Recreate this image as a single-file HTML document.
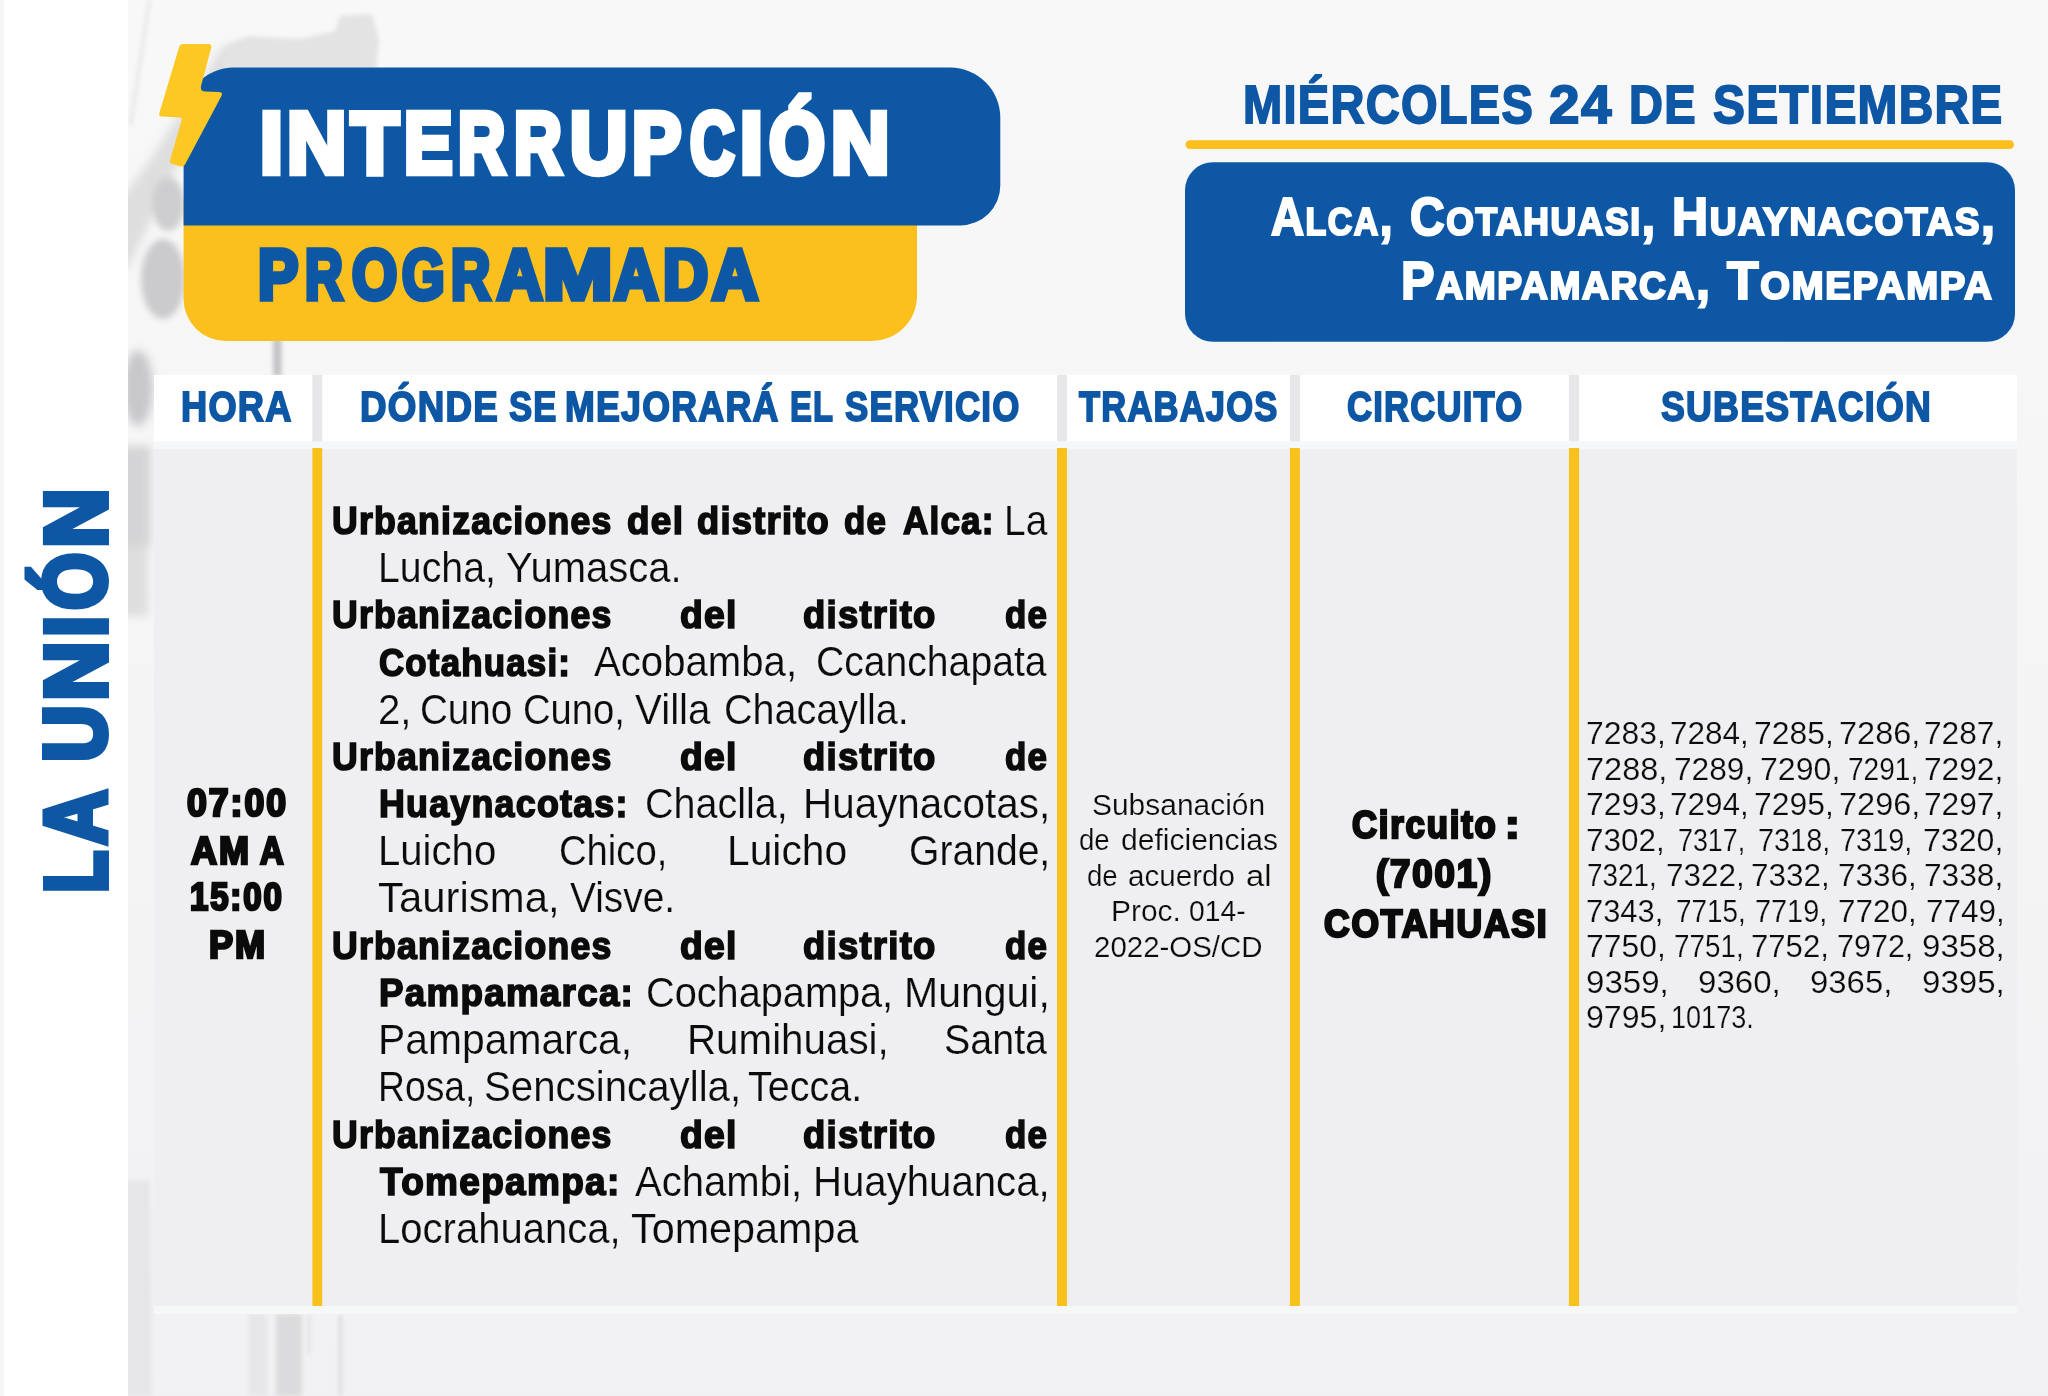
<!DOCTYPE html>
<html lang="es"><head><meta charset="utf-8"><title>Interrupción programada</title>
<style>
html,body{margin:0;padding:0}
body{width:2048px;height:1396px;position:relative;overflow:hidden;background:#f5f5f6;font-family:"Liberation Sans", sans-serif;color:#0b0b0b}
.a{position:absolute}
.t{position:absolute;white-space:nowrap;line-height:1;transform-origin:0 0}
</style></head><body>
<!-- background -->
<svg class="a" style="left:0;top:0" width="2048" height="1396" viewBox="0 0 2048 1396">
<defs>
<filter id="b6" x="-30%" y="-30%" width="160%" height="160%"><feGaussianBlur stdDeviation="5"/></filter>
<filter id="b3" x="-30%" y="-30%" width="160%" height="160%"><feGaussianBlur stdDeviation="3"/></filter>
<filter id="b2" x="-30%" y="-30%" width="160%" height="160%"><feGaussianBlur stdDeviation="2"/></filter>
<linearGradient id="lg" x1="0" x2="1" y1="0" y2="0"><stop offset="0" stop-color="#ebebeb"/><stop offset="1" stop-color="#ffffff"/></linearGradient>
<linearGradient id="pg" x1="0" x2="0" y1="0" y2="1"><stop offset="0" stop-color="#f8f8f8"/><stop offset="0.3" stop-color="#f6f6f7"/><stop offset="1" stop-color="#f1f0f2"/></linearGradient>
<clipPath id="cp"><rect x="128" y="0" width="1920" height="1396"/></clipPath>
</defs>
<rect x="128" y="0" width="1920" height="1396" fill="url(#pg)"/>
<g clip-path="url(#cp)">
<!-- faint photo: insulator arm (left of title box) -->
<g filter="url(#b6)">
<polygon points="120,200 150,160 222,48 252,40 190,140 128,268 120,270" fill="#dededf"/>
<ellipse cx="138" cy="388" rx="15" ry="38" fill="#c8c8ca"/>
<rect x="118" y="446" width="33" height="100" fill="#d4d4d6"/>
<rect x="118" y="546" width="30" height="70" fill="#dededf"/>
</g>
<g filter="url(#b3)">
<ellipse cx="168" cy="204" rx="16" ry="27" fill="#cdcdcf"/>
<ellipse cx="163" cy="279" rx="22" ry="40" fill="#cbcbcd"/>
</g>
<g filter="url(#b2)">
<polygon points="222,70 225,47 250,36 300,39 335,31 340,16 372,14 379,40 376,70" fill="#e3e3e4"/>
<rect x="273" y="338" width="8.5" height="38" fill="#c4c4c6"/>
<polygon points="129,125 132,125 151,0 148,0" fill="#e4e4e5"/>
<rect x="249" y="1314" width="18" height="82" fill="#e6e6e8"/>
<rect x="276" y="1314" width="26" height="82" fill="#dbdbdd"/>
<rect x="339" y="1314" width="2.5" height="82" fill="#d4d4d6"/>
<rect x="308" y="1314" width="2" height="40" fill="#d8d8da"/>
<polygon points="120,1180 150,1180 152,1396 120,1396" fill="#e6e6e8"/>
</g>
</g>
<rect x="0" y="0" width="128" height="1396" fill="#ffffff"/>
<rect x="0" y="0" width="4" height="1396" fill="#f5f5f5"/>
</svg>

<!-- header shapes -->
<svg class="a" style="left:0;top:0" width="2048" height="1396" viewBox="0 0 2048 1396">
<!-- yellow lower box -->
<path d="M183.6 200 H917 V296 A45 45 0 0 1 872 341 H225.6 A42 42 0 0 1 183.6 299 Z" fill="#fbc01d"/>
<!-- blue upper box -->
<path d="M183.6 225.4 V117.6 A50 50 0 0 1 233.6 67.6 H950.3 A50 50 0 0 1 1000.3 117.6 V185.4 A40 40 0 0 1 960.3 225.4 Z" fill="#0d57a5"/>
<!-- bolt -->
<path d="M183 44 H208.5 Q212 44 211.3 47.5 L201 86 Q199.8 91.3 205 91.5 L219 92 Q223.5 92.3 221.3 96.2 L185 164.5 Q183.5 167 181 166.4 L171.5 163.8 Q169.3 163 170 160.6 L181.6 120.5 Q182.4 117.6 179.5 117.5 L162 116.5 Q158 116.2 159.5 112.5 L179.3 46.5 Q180 44 183 44 Z" fill="#fdc823" stroke="#f5f5f6" stroke-width="0"/>
<!-- date underline -->
<rect x="1185.5" y="140.3" width="828.5" height="8.6" rx="4.3" fill="#fbc01d"/>
<!-- places box -->
<rect x="1185" y="162.2" width="830" height="179.6" rx="28" fill="#0d57a5"/>
<!-- table header cells -->
<g fill="#ffffff">
<rect x="154" y="375" width="158.4" height="66.5"/>
<rect x="322.2" y="375" width="734.8" height="66.5"/>
<rect x="1067" y="375" width="223" height="66.5"/>
<rect x="1299.9" y="375" width="269" height="66.5"/>
<rect x="1579.1" y="375" width="437.9" height="66.5"/>
</g>
<g fill="#e7e7e9">
<rect x="312.4" y="375" width="9.8" height="66.5"/>
<rect x="1057" y="375" width="10" height="66.5"/>
<rect x="1289.9" y="375" width="10" height="66.5"/>
<rect x="1568.9" y="375" width="10.2" height="66.5"/>
</g>
<!-- gap band -->
<rect x="154" y="441.5" width="1863" height="7.5" fill="#f6f7f8"/>
<!-- body -->
<rect x="154" y="449" width="1863" height="857" fill="#efeff1"/>
<rect x="154" y="1306" width="1863" height="8" fill="#f6f8f8"/>
<g fill="#f8c11b">
<rect x="312.4" y="448" width="9.8" height="858"/>
<rect x="1057" y="448" width="10" height="858"/>
<rect x="1289.9" y="448" width="10" height="858"/>
<rect x="1568.9" y="448" width="10.2" height="858"/>
</g>
</svg>

<div class="t" style="left:259.50px;top:100.0px;font-size:86.19px;font-weight:700;color:#fff;-webkit-text-stroke:6.50px #fff;letter-spacing:5.20px;transform:scaleX(0.9547)">I</div>
<div class="t" style="left:287.00px;top:100.0px;font-size:86.19px;font-weight:700;color:#fff;-webkit-text-stroke:6.50px #fff;letter-spacing:5.20px;transform:scaleX(0.9543)">N</div>
<div class="t" style="left:350.50px;top:100.0px;font-size:86.19px;font-weight:700;color:#fff;-webkit-text-stroke:6.50px #fff;letter-spacing:5.20px;transform:scaleX(0.9074)">T</div>
<div class="t" style="left:404.00px;top:100.0px;font-size:86.19px;font-weight:700;color:#fff;-webkit-text-stroke:6.50px #fff;letter-spacing:5.20px;transform:scaleX(0.8439)">E</div>
<div class="t" style="left:458.00px;top:100.0px;font-size:86.19px;font-weight:700;color:#fff;-webkit-text-stroke:6.50px #fff;letter-spacing:5.20px;transform:scaleX(0.7592)">R</div>
<div class="t" style="left:514.00px;top:100.0px;font-size:86.19px;font-weight:700;color:#fff;-webkit-text-stroke:6.50px #fff;letter-spacing:5.20px;transform:scaleX(0.7671)">R</div>
<div class="t" style="left:570.00px;top:100.0px;font-size:86.19px;font-weight:700;color:#fff;-webkit-text-stroke:6.50px #fff;letter-spacing:5.20px;transform:scaleX(0.9200)">U</div>
<div class="t" style="left:632.00px;top:100.0px;font-size:86.19px;font-weight:700;color:#fff;-webkit-text-stroke:6.50px #fff;letter-spacing:5.20px;transform:scaleX(0.8572)">P</div>
<div class="t" style="left:690.00px;top:100.0px;font-size:86.19px;font-weight:700;color:#fff;-webkit-text-stroke:6.50px #fff;letter-spacing:5.20px;transform:scaleX(0.7138)">C</div>
<div class="t" style="left:740.00px;top:100.0px;font-size:86.19px;font-weight:700;color:#fff;-webkit-text-stroke:6.50px #fff;letter-spacing:5.20px;transform:scaleX(0.9532)">I</div>
<div class="t" style="left:768.50px;top:100.0px;font-size:86.19px;font-weight:700;color:#fff;-webkit-text-stroke:6.50px #fff;letter-spacing:5.20px;transform:scaleX(0.8348)">Ó</div>
<div class="t" style="left:830.50px;top:100.0px;font-size:86.19px;font-weight:700;color:#fff;-webkit-text-stroke:6.50px #fff;letter-spacing:5.20px;transform:scaleX(0.9399)">N</div>
<div class="t" style="left:258.00px;top:240.2px;font-size:70.06px;font-weight:700;color:#0d57a5;-webkit-text-stroke:5.50px #0d57a5;letter-spacing:4.40px;transform:scaleX(0.8615)">P</div>
<div class="t" style="left:305.00px;top:240.2px;font-size:70.06px;font-weight:700;color:#0d57a5;-webkit-text-stroke:5.50px #0d57a5;letter-spacing:4.40px;transform:scaleX(0.7467)">R</div>
<div class="t" style="left:351.50px;top:240.2px;font-size:70.06px;font-weight:700;color:#0d57a5;-webkit-text-stroke:5.50px #0d57a5;letter-spacing:4.40px;transform:scaleX(0.8295)">O</div>
<div class="t" style="left:402.00px;top:240.2px;font-size:70.06px;font-weight:700;color:#0d57a5;-webkit-text-stroke:5.50px #0d57a5;letter-spacing:4.40px;transform:scaleX(0.7811)">G</div>
<div class="t" style="left:451.00px;top:240.2px;font-size:70.06px;font-weight:700;color:#0d57a5;-webkit-text-stroke:5.50px #0d57a5;letter-spacing:4.40px;transform:scaleX(0.7743)">R</div>
<div class="t" style="left:496.50px;top:240.2px;font-size:70.06px;font-weight:700;color:#0d57a5;-webkit-text-stroke:5.50px #0d57a5;letter-spacing:4.40px;transform:scaleX(0.9000)">A</div>
<div class="t" style="left:543.00px;top:240.2px;font-size:70.06px;font-weight:700;color:#0d57a5;-webkit-text-stroke:5.50px #0d57a5;letter-spacing:4.40px;transform:scaleX(1.1904)">M</div>
<div class="t" style="left:613.50px;top:240.2px;font-size:70.06px;font-weight:700;color:#0d57a5;-webkit-text-stroke:5.50px #0d57a5;letter-spacing:4.40px;transform:scaleX(0.8730)">A</div>
<div class="t" style="left:662.50px;top:240.2px;font-size:70.06px;font-weight:700;color:#0d57a5;-webkit-text-stroke:5.50px #0d57a5;letter-spacing:4.40px;transform:scaleX(0.8928)">D</div>
<div class="t" style="left:712.00px;top:240.2px;font-size:70.06px;font-weight:700;color:#0d57a5;-webkit-text-stroke:5.50px #0d57a5;letter-spacing:4.40px;transform:scaleX(0.9092)">A</div>
<div class="t" style="left:1242.50px;top:76.6px;font-size:54.07px;font-weight:700;color:#0d57a5;-webkit-text-stroke:1.80px #0d57a5;letter-spacing:1.44px;transform:scaleX(0.8705)">MIÉRCOLES</div>
<div class="t" style="left:1549.00px;top:76.6px;font-size:54.07px;font-weight:700;color:#0d57a5;-webkit-text-stroke:1.80px #0d57a5;letter-spacing:1.44px;transform:scaleX(1.0168)">24</div>
<div class="t" style="left:1629.00px;top:76.6px;font-size:54.07px;font-weight:700;color:#0d57a5;-webkit-text-stroke:1.80px #0d57a5;letter-spacing:1.44px;transform:scaleX(0.8687)">DE</div>
<div class="t" style="left:1712.50px;top:76.6px;font-size:54.07px;font-weight:700;color:#0d57a5;-webkit-text-stroke:1.80px #0d57a5;letter-spacing:1.44px;transform:scaleX(0.8848)">SETIEMBRE</div>
<div class="t" style="left:1271.00px;top:189.8px;font-size:53.49px;font-weight:700;color:#fff;-webkit-text-stroke:2.20px #fff;letter-spacing:1.76px;transform:scaleX(0.8570)">A<span style="font-size:74%">LCA</span>,</div>
<div class="t" style="left:1410.00px;top:189.8px;font-size:53.49px;font-weight:700;color:#fff;-webkit-text-stroke:2.20px #fff;letter-spacing:1.76px;transform:scaleX(0.8972)">C<span style="font-size:74%">OTAHUASI</span>,</div>
<div class="t" style="left:1671.50px;top:189.8px;font-size:53.49px;font-weight:700;color:#fff;-webkit-text-stroke:2.20px #fff;letter-spacing:1.76px;transform:scaleX(0.9347)">H<span style="font-size:74%">UAYNACOTAS</span>,</div>
<div class="t" style="left:1400.50px;top:253.5px;font-size:53.49px;font-weight:700;color:#fff;-webkit-text-stroke:2.20px #fff;letter-spacing:1.76px;transform:scaleX(0.9390)">P<span style="font-size:74%">AMPAMARCA</span>,</div>
<div class="t" style="left:1727.00px;top:253.5px;font-size:53.49px;font-weight:700;color:#fff;-webkit-text-stroke:2.20px #fff;letter-spacing:1.76px;transform:scaleX(0.9665)">T<span style="font-size:74%">OMEPAMPA</span></div>
<div class="t" style="left:181.00px;top:386.4px;font-size:41.72px;font-weight:700;color:#0d57a5;-webkit-text-stroke:1.80px #0d57a5;letter-spacing:1.44px;transform:scaleX(0.8678)">HORA</div>
<div class="t" style="left:359.50px;top:386.4px;font-size:41.72px;font-weight:700;color:#0d57a5;-webkit-text-stroke:1.80px #0d57a5;letter-spacing:1.44px;transform:scaleX(0.8810)">DÓNDE</div>
<div class="t" style="left:509.00px;top:386.4px;font-size:41.72px;font-weight:700;color:#0d57a5;-webkit-text-stroke:1.80px #0d57a5;letter-spacing:1.44px;transform:scaleX(0.8296)">SE</div>
<div class="t" style="left:565.00px;top:386.4px;font-size:41.72px;font-weight:700;color:#0d57a5;-webkit-text-stroke:1.80px #0d57a5;letter-spacing:1.44px;transform:scaleX(0.8572)">MEJORARÁ</div>
<div class="t" style="left:790.00px;top:386.4px;font-size:41.72px;font-weight:700;color:#0d57a5;-webkit-text-stroke:1.80px #0d57a5;letter-spacing:1.44px;transform:scaleX(0.7848)">EL</div>
<div class="t" style="left:844.50px;top:386.4px;font-size:41.72px;font-weight:700;color:#0d57a5;-webkit-text-stroke:1.80px #0d57a5;letter-spacing:1.44px;transform:scaleX(0.8352)">SERVICIO</div>
<div class="t" style="left:1079.00px;top:386.4px;font-size:41.72px;font-weight:700;color:#0d57a5;-webkit-text-stroke:1.80px #0d57a5;letter-spacing:1.44px;transform:scaleX(0.8278)">TRABAJOS</div>
<div class="t" style="left:1347.00px;top:386.4px;font-size:41.72px;font-weight:700;color:#0d57a5;-webkit-text-stroke:1.80px #0d57a5;letter-spacing:1.44px;transform:scaleX(0.8312)">CIRCUITO</div>
<div class="t" style="left:1661.00px;top:386.4px;font-size:41.72px;font-weight:700;color:#0d57a5;-webkit-text-stroke:1.80px #0d57a5;letter-spacing:1.44px;transform:scaleX(0.8566)">SUBESTACIÓN</div>
<div class="t" style="left:187.00px;top:784.1px;font-size:38.23px;font-weight:700;-webkit-text-stroke:2.70px #0b0b0b;letter-spacing:2.16px;transform:scaleX(0.9308)">07:00</div>
<div class="t" style="left:190.50px;top:831.8px;font-size:38.23px;font-weight:700;-webkit-text-stroke:2.70px #0b0b0b;letter-spacing:2.16px;transform:scaleX(0.9422)">AM</div>
<div class="t" style="left:259.50px;top:831.8px;font-size:38.23px;font-weight:700;-webkit-text-stroke:2.70px #0b0b0b;letter-spacing:2.16px;transform:scaleX(0.8568)">A</div>
<div class="t" style="left:190.00px;top:878.4px;font-size:38.23px;font-weight:700;-webkit-text-stroke:2.70px #0b0b0b;letter-spacing:2.16px;transform:scaleX(0.8621)">15:00</div>
<div class="t" style="left:209.00px;top:926.1px;font-size:38.23px;font-weight:700;-webkit-text-stroke:2.70px #0b0b0b;letter-spacing:2.16px;transform:scaleX(0.9447)">PM</div>
<div class="t" style="left:1092.00px;top:789.5px;font-size:30.09px;-webkit-text-stroke:0.20px #efeff1;transform:scaleX(0.9953)">Subsanación</div>
<div class="t" style="left:1079.00px;top:825.4px;font-size:30.09px;-webkit-text-stroke:0.20px #efeff1;transform:scaleX(0.9172)">de</div>
<div class="t" style="left:1120.50px;top:825.4px;font-size:30.09px;-webkit-text-stroke:0.20px #efeff1;transform:scaleX(0.9991)">deficiencias</div>
<div class="t" style="left:1086.50px;top:860.8px;font-size:30.09px;-webkit-text-stroke:0.20px #efeff1;transform:scaleX(0.9172)">de</div>
<div class="t" style="left:1128.00px;top:860.8px;font-size:30.09px;-webkit-text-stroke:0.20px #efeff1;transform:scaleX(0.9847)">acuerdo</div>
<div class="t" style="left:1246.00px;top:860.8px;font-size:30.09px;-webkit-text-stroke:0.20px #efeff1;transform:scaleX(1.0876)">al</div>
<div class="t" style="left:1111.00px;top:896.2px;font-size:30.09px;-webkit-text-stroke:0.20px #efeff1;transform:scaleX(0.9954)">Proc.</div>
<div class="t" style="left:1189.00px;top:896.2px;font-size:30.09px;-webkit-text-stroke:0.20px #efeff1;transform:scaleX(0.9402)">014-</div>
<div class="t" style="left:1094.00px;top:931.6px;font-size:30.09px;-webkit-text-stroke:0.20px #efeff1;transform:scaleX(0.9791)">2022-OS/CD</div>
<div class="t" style="left:1352.00px;top:806.2px;font-size:38.23px;font-weight:700;-webkit-text-stroke:2.50px #0b0b0b;letter-spacing:2.00px;transform:scaleX(0.9073)">Circuito</div>
<div class="t" style="left:1504.50px;top:806.2px;font-size:38.23px;font-weight:700;-webkit-text-stroke:2.50px #0b0b0b;letter-spacing:2.00px;transform:scaleX(1.1505)">:</div>
<div class="t" style="left:1376.00px;top:855.0px;font-size:38.23px;font-weight:700;-webkit-text-stroke:2.50px #0b0b0b;letter-spacing:2.00px;transform:scaleX(0.9562)">(7001)</div>
<div class="t" style="left:1323.50px;top:905.1px;font-size:38.23px;font-weight:700;-webkit-text-stroke:2.50px #0b0b0b;letter-spacing:2.00px;transform:scaleX(0.9265)">COTAHUASI</div>
<div class="t" style="left:332.00px;top:500.9px;font-size:39.39px;font-weight:700;-webkit-text-stroke:1.70px #0b0b0b;letter-spacing:1.36px;transform:scaleX(0.9047)">Urbanizaciones</div>
<div class="t" style="left:626.50px;top:500.9px;font-size:39.39px;font-weight:700;-webkit-text-stroke:1.70px #0b0b0b;letter-spacing:1.36px;transform:scaleX(0.9388)">del</div>
<div class="t" style="left:696.50px;top:500.9px;font-size:39.39px;font-weight:700;-webkit-text-stroke:1.70px #0b0b0b;letter-spacing:1.36px;transform:scaleX(0.9220)">distrito</div>
<div class="t" style="left:843.50px;top:500.9px;font-size:39.39px;font-weight:700;-webkit-text-stroke:1.70px #0b0b0b;letter-spacing:1.36px;transform:scaleX(0.8856)">de</div>
<div class="t" style="left:902.50px;top:500.9px;font-size:39.39px;font-weight:700;-webkit-text-stroke:1.70px #0b0b0b;letter-spacing:1.36px;transform:scaleX(0.8892)">Alca:</div>
<div class="t" style="left:1003.50px;top:499.5px;font-size:42.15px;-webkit-text-stroke:0.20px #efeff1;transform:scaleX(0.9228)">La</div>
<div class="t" style="left:377.50px;top:546.8px;font-size:42.15px;-webkit-text-stroke:0.20px #efeff1;transform:scaleX(0.9316)">Lucha,</div>
<div class="t" style="left:506.00px;top:546.8px;font-size:42.15px;-webkit-text-stroke:0.20px #efeff1;transform:scaleX(0.9490)">Yumasca.</div>
<div class="t" style="left:332.00px;top:595.4px;font-size:39.39px;font-weight:700;-webkit-text-stroke:1.70px #0b0b0b;letter-spacing:1.36px;transform:scaleX(0.9047)">Urbanizaciones</div>
<div class="t" style="left:679.50px;top:595.4px;font-size:39.39px;font-weight:700;-webkit-text-stroke:1.70px #0b0b0b;letter-spacing:1.36px;transform:scaleX(0.9475)">del</div>
<div class="t" style="left:802.50px;top:595.4px;font-size:39.39px;font-weight:700;-webkit-text-stroke:1.70px #0b0b0b;letter-spacing:1.36px;transform:scaleX(0.9255)">distrito</div>
<div class="t" style="left:1004.50px;top:595.4px;font-size:39.39px;font-weight:700;-webkit-text-stroke:1.70px #0b0b0b;letter-spacing:1.36px;transform:scaleX(0.8856)">de</div>
<div class="t" style="left:379.00px;top:642.6px;font-size:39.39px;font-weight:700;-webkit-text-stroke:1.70px #0b0b0b;letter-spacing:1.36px;transform:scaleX(0.8851)">Cotahuasi:</div>
<div class="t" style="left:594.00px;top:641.2px;font-size:42.15px;-webkit-text-stroke:0.20px #efeff1;transform:scaleX(0.9525)">Acobamba,</div>
<div class="t" style="left:816.00px;top:641.2px;font-size:42.15px;-webkit-text-stroke:0.20px #efeff1;transform:scaleX(0.9282)">Ccanchapata</div>
<div class="t" style="left:377.50px;top:688.5px;font-size:42.15px;-webkit-text-stroke:0.20px #efeff1;transform:scaleX(0.9529)">2,</div>
<div class="t" style="left:419.50px;top:688.5px;font-size:42.15px;-webkit-text-stroke:0.20px #efeff1;transform:scaleX(0.9147)">Cuno</div>
<div class="t" style="left:523.00px;top:688.5px;font-size:42.15px;-webkit-text-stroke:0.20px #efeff1;transform:scaleX(0.9053)">Cuno,</div>
<div class="t" style="left:635.00px;top:688.5px;font-size:42.15px;-webkit-text-stroke:0.20px #efeff1;transform:scaleX(0.9573)">Villa</div>
<div class="t" style="left:724.00px;top:688.5px;font-size:42.15px;-webkit-text-stroke:0.20px #efeff1;transform:scaleX(0.9386)">Chacaylla.</div>
<div class="t" style="left:332.00px;top:737.1px;font-size:39.39px;font-weight:700;-webkit-text-stroke:1.70px #0b0b0b;letter-spacing:1.36px;transform:scaleX(0.9047)">Urbanizaciones</div>
<div class="t" style="left:679.50px;top:737.1px;font-size:39.39px;font-weight:700;-webkit-text-stroke:1.70px #0b0b0b;letter-spacing:1.36px;transform:scaleX(0.9475)">del</div>
<div class="t" style="left:802.50px;top:737.1px;font-size:39.39px;font-weight:700;-webkit-text-stroke:1.70px #0b0b0b;letter-spacing:1.36px;transform:scaleX(0.9255)">distrito</div>
<div class="t" style="left:1004.50px;top:737.1px;font-size:39.39px;font-weight:700;-webkit-text-stroke:1.70px #0b0b0b;letter-spacing:1.36px;transform:scaleX(0.8856)">de</div>
<div class="t" style="left:378.50px;top:784.3px;font-size:39.39px;font-weight:700;-webkit-text-stroke:1.70px #0b0b0b;letter-spacing:1.36px;transform:scaleX(0.9092)">Huaynacotas:</div>
<div class="t" style="left:644.50px;top:783.0px;font-size:42.15px;-webkit-text-stroke:0.20px #efeff1;transform:scaleX(0.9374)">Chaclla,</div>
<div class="t" style="left:802.50px;top:783.0px;font-size:42.15px;-webkit-text-stroke:0.20px #efeff1;transform:scaleX(0.9592)">Huaynacotas,</div>
<div class="t" style="left:377.50px;top:830.2px;font-size:42.15px;-webkit-text-stroke:0.20px #efeff1;transform:scaleX(0.9517)">Luicho</div>
<div class="t" style="left:558.50px;top:830.2px;font-size:42.15px;-webkit-text-stroke:0.20px #efeff1;transform:scaleX(0.9068)">Chico,</div>
<div class="t" style="left:726.50px;top:830.2px;font-size:42.15px;-webkit-text-stroke:0.20px #efeff1;transform:scaleX(0.9678)">Luicho</div>
<div class="t" style="left:908.50px;top:830.2px;font-size:42.15px;-webkit-text-stroke:0.20px #efeff1;transform:scaleX(0.9275)">Grande,</div>
<div class="t" style="left:378.00px;top:877.4px;font-size:42.15px;-webkit-text-stroke:0.20px #efeff1;transform:scaleX(0.9943)">Taurisma,</div>
<div class="t" style="left:569.50px;top:877.4px;font-size:42.15px;-webkit-text-stroke:0.20px #efeff1;transform:scaleX(0.9222)">Visve.</div>
<div class="t" style="left:332.00px;top:926.1px;font-size:39.39px;font-weight:700;-webkit-text-stroke:1.70px #0b0b0b;letter-spacing:1.36px;transform:scaleX(0.9047)">Urbanizaciones</div>
<div class="t" style="left:679.50px;top:926.1px;font-size:39.39px;font-weight:700;-webkit-text-stroke:1.70px #0b0b0b;letter-spacing:1.36px;transform:scaleX(0.9475)">del</div>
<div class="t" style="left:802.50px;top:926.1px;font-size:39.39px;font-weight:700;-webkit-text-stroke:1.70px #0b0b0b;letter-spacing:1.36px;transform:scaleX(0.9255)">distrito</div>
<div class="t" style="left:1004.50px;top:926.1px;font-size:39.39px;font-weight:700;-webkit-text-stroke:1.70px #0b0b0b;letter-spacing:1.36px;transform:scaleX(0.8856)">de</div>
<div class="t" style="left:378.50px;top:973.3px;font-size:39.39px;font-weight:700;-webkit-text-stroke:1.70px #0b0b0b;letter-spacing:1.36px;transform:scaleX(0.9337)">Pampamarca:</div>
<div class="t" style="left:645.50px;top:971.9px;font-size:42.15px;-webkit-text-stroke:0.20px #efeff1;transform:scaleX(0.9419)">Cochapampa,</div>
<div class="t" style="left:904.00px;top:971.9px;font-size:42.15px;-webkit-text-stroke:0.20px #efeff1;transform:scaleX(0.9728)">Mungui,</div>
<div class="t" style="left:377.50px;top:1019.2px;font-size:42.15px;-webkit-text-stroke:0.20px #efeff1;transform:scaleX(0.9690)">Pampamarca,</div>
<div class="t" style="left:686.50px;top:1019.2px;font-size:42.15px;-webkit-text-stroke:0.20px #efeff1;transform:scaleX(0.9569)">Rumihuasi,</div>
<div class="t" style="left:943.50px;top:1019.2px;font-size:42.15px;-webkit-text-stroke:0.20px #efeff1;transform:scaleX(0.9356)">Santa</div>
<div class="t" style="left:377.50px;top:1066.4px;font-size:42.15px;-webkit-text-stroke:0.20px #efeff1;transform:scaleX(0.8849)">Rosa,</div>
<div class="t" style="left:483.50px;top:1066.4px;font-size:42.15px;-webkit-text-stroke:0.20px #efeff1;transform:scaleX(0.9545)">Sencsincaylla,</div>
<div class="t" style="left:748.00px;top:1066.4px;font-size:42.15px;-webkit-text-stroke:0.20px #efeff1;transform:scaleX(0.9376)">Tecca.</div>
<div class="t" style="left:332.00px;top:1115.0px;font-size:39.39px;font-weight:700;-webkit-text-stroke:1.70px #0b0b0b;letter-spacing:1.36px;transform:scaleX(0.9047)">Urbanizaciones</div>
<div class="t" style="left:679.50px;top:1115.0px;font-size:39.39px;font-weight:700;-webkit-text-stroke:1.70px #0b0b0b;letter-spacing:1.36px;transform:scaleX(0.9475)">del</div>
<div class="t" style="left:802.50px;top:1115.0px;font-size:39.39px;font-weight:700;-webkit-text-stroke:1.70px #0b0b0b;letter-spacing:1.36px;transform:scaleX(0.9255)">distrito</div>
<div class="t" style="left:1004.50px;top:1115.0px;font-size:39.39px;font-weight:700;-webkit-text-stroke:1.70px #0b0b0b;letter-spacing:1.36px;transform:scaleX(0.8856)">de</div>
<div class="t" style="left:379.50px;top:1162.3px;font-size:39.39px;font-weight:700;-webkit-text-stroke:1.70px #0b0b0b;letter-spacing:1.36px;transform:scaleX(0.9407)">Tomepampa:</div>
<div class="t" style="left:635.00px;top:1160.9px;font-size:42.15px;-webkit-text-stroke:0.20px #efeff1;transform:scaleX(0.9511)">Achambi,</div>
<div class="t" style="left:813.00px;top:1160.9px;font-size:42.15px;-webkit-text-stroke:0.20px #efeff1;transform:scaleX(0.9531)">Huayhuanca,</div>
<div class="t" style="left:377.50px;top:1208.1px;font-size:42.15px;-webkit-text-stroke:0.20px #efeff1;transform:scaleX(0.9503)">Locrahuanca,</div>
<div class="t" style="left:630.50px;top:1208.1px;font-size:42.15px;-webkit-text-stroke:0.20px #efeff1;transform:scaleX(0.9810)">Tomepampa</div>
<div class="t" style="left:1586.00px;top:718.4px;font-size:31.25px;-webkit-text-stroke:0.20px #efeff1;transform:scaleX(1.0207)">7283,</div>
<div class="t" style="left:1670.00px;top:718.4px;font-size:31.25px;-webkit-text-stroke:0.20px #efeff1;transform:scaleX(1.0072)">7284,</div>
<div class="t" style="left:1754.00px;top:718.4px;font-size:31.25px;-webkit-text-stroke:0.20px #efeff1;transform:scaleX(1.0199)">7285,</div>
<div class="t" style="left:1839.00px;top:718.4px;font-size:31.25px;-webkit-text-stroke:0.20px #efeff1;transform:scaleX(1.0394)">7286,</div>
<div class="t" style="left:1924.00px;top:718.4px;font-size:31.25px;-webkit-text-stroke:0.20px #efeff1;transform:scaleX(1.0140)">7287,</div>
<div class="t" style="left:1586.00px;top:753.9px;font-size:31.25px;-webkit-text-stroke:0.20px #efeff1;transform:scaleX(1.0403)">7288,</div>
<div class="t" style="left:1673.50px;top:753.9px;font-size:31.25px;-webkit-text-stroke:0.20px #efeff1;transform:scaleX(1.0140)">7289,</div>
<div class="t" style="left:1760.00px;top:753.9px;font-size:31.25px;-webkit-text-stroke:0.20px #efeff1;transform:scaleX(1.0267)">7290,</div>
<div class="t" style="left:1847.50px;top:753.9px;font-size:31.25px;-webkit-text-stroke:0.20px #efeff1;transform:scaleX(0.8977)">7291,</div>
<div class="t" style="left:1924.00px;top:753.9px;font-size:31.25px;-webkit-text-stroke:0.20px #efeff1;transform:scaleX(1.0140)">7292,</div>
<div class="t" style="left:1586.00px;top:789.3px;font-size:31.25px;-webkit-text-stroke:0.20px #efeff1;transform:scaleX(1.0207)">7293,</div>
<div class="t" style="left:1670.00px;top:789.3px;font-size:31.25px;-webkit-text-stroke:0.20px #efeff1;transform:scaleX(1.0072)">7294,</div>
<div class="t" style="left:1754.00px;top:789.3px;font-size:31.25px;-webkit-text-stroke:0.20px #efeff1;transform:scaleX(1.0199)">7295,</div>
<div class="t" style="left:1839.00px;top:789.3px;font-size:31.25px;-webkit-text-stroke:0.20px #efeff1;transform:scaleX(1.0394)">7296,</div>
<div class="t" style="left:1924.00px;top:789.3px;font-size:31.25px;-webkit-text-stroke:0.20px #efeff1;transform:scaleX(1.0140)">7297,</div>
<div class="t" style="left:1586.00px;top:824.8px;font-size:31.25px;-webkit-text-stroke:0.20px #efeff1;transform:scaleX(1.0072)">7302,</div>
<div class="t" style="left:1677.50px;top:824.8px;font-size:31.25px;-webkit-text-stroke:0.20px #efeff1;transform:scaleX(0.8586)">7317,</div>
<div class="t" style="left:1757.50px;top:824.8px;font-size:31.25px;-webkit-text-stroke:0.20px #efeff1;transform:scaleX(0.9242)">7318,</div>
<div class="t" style="left:1840.00px;top:824.8px;font-size:31.25px;-webkit-text-stroke:0.20px #efeff1;transform:scaleX(0.9242)">7319,</div>
<div class="t" style="left:1923.00px;top:824.8px;font-size:31.25px;-webkit-text-stroke:0.20px #efeff1;transform:scaleX(1.0267)">7320,</div>
<div class="t" style="left:1587.00px;top:860.2px;font-size:31.25px;-webkit-text-stroke:0.20px #efeff1;transform:scaleX(0.8912)">7321,</div>
<div class="t" style="left:1665.50px;top:860.2px;font-size:31.25px;-webkit-text-stroke:0.20px #efeff1;transform:scaleX(1.0081)">7322,</div>
<div class="t" style="left:1751.00px;top:860.2px;font-size:31.25px;-webkit-text-stroke:0.20px #efeff1;transform:scaleX(1.0081)">7332,</div>
<div class="t" style="left:1837.50px;top:860.2px;font-size:31.25px;-webkit-text-stroke:0.20px #efeff1;transform:scaleX(1.0072)">7336,</div>
<div class="t" style="left:1924.00px;top:860.2px;font-size:31.25px;-webkit-text-stroke:0.20px #efeff1;transform:scaleX(1.0140)">7338,</div>
<div class="t" style="left:1586.00px;top:895.7px;font-size:31.25px;-webkit-text-stroke:0.20px #efeff1;transform:scaleX(0.9885)">7343,</div>
<div class="t" style="left:1676.00px;top:895.7px;font-size:31.25px;-webkit-text-stroke:0.20px #efeff1;transform:scaleX(0.8910)">7715,</div>
<div class="t" style="left:1755.00px;top:895.7px;font-size:31.25px;-webkit-text-stroke:0.20px #efeff1;transform:scaleX(0.9242)">7719,</div>
<div class="t" style="left:1837.50px;top:895.7px;font-size:31.25px;-webkit-text-stroke:0.20px #efeff1;transform:scaleX(1.0072)">7720,</div>
<div class="t" style="left:1925.50px;top:895.7px;font-size:31.25px;-webkit-text-stroke:0.20px #efeff1;transform:scaleX(1.0081)">7749,</div>
<div class="t" style="left:1586.00px;top:931.1px;font-size:31.25px;-webkit-text-stroke:0.20px #efeff1;transform:scaleX(1.0207)">7750,</div>
<div class="t" style="left:1673.50px;top:931.1px;font-size:31.25px;-webkit-text-stroke:0.20px #efeff1;transform:scaleX(0.8910)">7751,</div>
<div class="t" style="left:1751.00px;top:931.1px;font-size:31.25px;-webkit-text-stroke:0.20px #efeff1;transform:scaleX(0.9953)">7752,</div>
<div class="t" style="left:1836.50px;top:931.1px;font-size:31.25px;-webkit-text-stroke:0.20px #efeff1;transform:scaleX(0.9758)">7972,</div>
<div class="t" style="left:1921.50px;top:931.1px;font-size:31.25px;-webkit-text-stroke:0.20px #efeff1;transform:scaleX(1.0590)">9358,</div>
<div class="t" style="left:1586.00px;top:966.6px;font-size:31.25px;-webkit-text-stroke:0.20px #efeff1;transform:scaleX(1.0590)">9359,</div>
<div class="t" style="left:1697.50px;top:966.6px;font-size:31.25px;-webkit-text-stroke:0.20px #efeff1;transform:scaleX(1.0590)">9360,</div>
<div class="t" style="left:1810.00px;top:966.6px;font-size:31.25px;-webkit-text-stroke:0.20px #efeff1;transform:scaleX(1.0530)">9365,</div>
<div class="t" style="left:1921.50px;top:966.6px;font-size:31.25px;-webkit-text-stroke:0.20px #efeff1;transform:scaleX(1.0590)">9395,</div>
<div class="t" style="left:1586.00px;top:1002.0px;font-size:31.25px;-webkit-text-stroke:0.20px #efeff1;transform:scaleX(1.0267)">9795,</div>
<div class="t" style="left:1671.00px;top:1002.0px;font-size:31.25px;-webkit-text-stroke:0.20px #efeff1;transform:scaleX(0.8656)">10173.</div>
<div class="a" style="left:0;top:0;width:0;height:0">
<div style="position:absolute;left:109.60px;top:893.40px;white-space:nowrap;line-height:1;font-size:87.35px;font-weight:700;color:#0d57a5;-webkit-text-stroke:6.0px #0d57a5;transform-origin:0 0;transform:rotate(-90deg) translateY(-76.95px) scaleX(0.7922);">L</div>
<div style="position:absolute;left:108.60px;top:845.20px;white-space:nowrap;line-height:1;font-size:87.35px;font-weight:700;color:#0d57a5;-webkit-text-stroke:6.0px #0d57a5;transform-origin:0 0;transform:rotate(-90deg) translateY(-76.95px) scaleX(0.8725);">A</div>
<div style="position:absolute;left:108.60px;top:762.20px;white-space:nowrap;line-height:1;font-size:87.35px;font-weight:700;color:#0d57a5;-webkit-text-stroke:6.0px #0d57a5;transform-origin:0 0;transform:rotate(-90deg) translateY(-76.95px) scaleX(0.9010);">U</div>
<div style="position:absolute;left:109.60px;top:701.20px;white-space:nowrap;line-height:1;font-size:87.35px;font-weight:700;color:#0d57a5;-webkit-text-stroke:6.0px #0d57a5;transform-origin:0 0;transform:rotate(-90deg) translateY(-76.95px) scaleX(0.9457);">N</div>
<div style="position:absolute;left:109.60px;top:636.80px;white-space:nowrap;line-height:1;font-size:87.35px;font-weight:700;color:#0d57a5;-webkit-text-stroke:6.0px #0d57a5;transform-origin:0 0;transform:rotate(-90deg) translateY(-76.95px) scaleX(0.8782);">I</div>
<div style="position:absolute;left:108.60px;top:609.80px;white-space:nowrap;line-height:1;font-size:87.35px;font-weight:700;color:#0d57a5;-webkit-text-stroke:6.0px #0d57a5;transform-origin:0 0;transform:rotate(-90deg) translateY(-76.95px) scaleX(0.8426);">Ó</div>
<div style="position:absolute;left:109.60px;top:547.80px;white-space:nowrap;line-height:1;font-size:87.35px;font-weight:700;color:#0d57a5;-webkit-text-stroke:6.0px #0d57a5;transform-origin:0 0;transform:rotate(-90deg) translateY(-76.95px) scaleX(0.9454);">N</div>
</div>

</body></html>
